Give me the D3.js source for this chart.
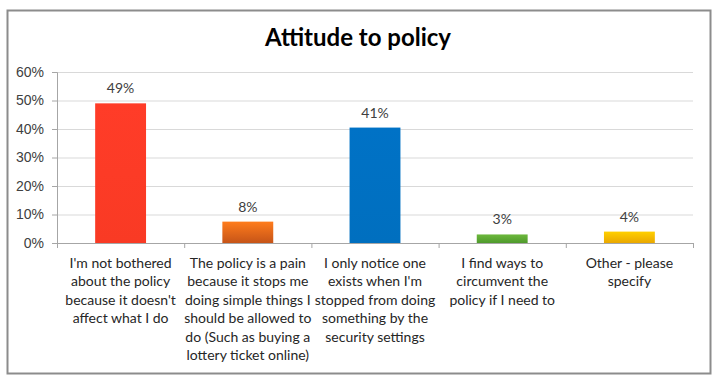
<!DOCTYPE html>
<html lang="en">
<head>
  <meta charset="UTF-8">
  <title>Attitude to policy</title>
  <script src="https://cdn.jsdelivr.net/npm/d3@7"></script>
  <style>
    body { margin: 0; background: #fff; }
    svg { display: block; font-family: Lato, "Open Sans", sans-serif; }
    .chart-title { font-size: 24px; font-weight: bold; fill: #000; }
    .tick text { font-size: 14px; fill: #404040; }
    .cat-label { font-size: 14px; fill: #262626; }
    .value-label { font-size: 14px; fill: #404040; }
  </style>
</head>
<body>
  <div id="container"></div>
  <script>
    // Categories (already split into lines as in the picture)
    const categories = [
      ["I'm not bothered", "about the policy", "because it doesn't", "affect what I do"],
      ["The policy is a pain", "because it stops me", "doing simple things I", "should be allowed to", "do (Such as buying a", "lottery ticket online)"],
      ["I only notice one", "exists when I'm", "stopped from doing", "something by the", "security settings"],
      ["I find ways to", "circumvent the", "policy if I need to"],
      ["Other - please", "specify"]
    ];
    const values = [0.49, 0.075, 0.405, 0.03, 0.04];
    const valueLabels = ["49%", "8%", "41%", "3%", "4%"];
    const yTicks = [0, 0.1, 0.2, 0.3, 0.4, 0.5, 0.6];

    // colour pairs: top / bottom of gradient
    const colors = [
      ["#ff3c28", "#f93a24"],
      ["#ff7c1c", "#c65418"],
      ["#0072c6", "#006fbf"],
      ["#6cb83c", "#4f9a2c"],
      ["#ffd000", "#eaa800"]
    ];

    const width = 721;
    const height = 384;
    const plot = { left: 57, right: 693, top: 72, bottom: 243 };

    const svg = d3.select("#container")
      .append("svg")
      .attr("width", width)
      .attr("height", height);

    const defs = svg.append("defs");
    colors.forEach((c, i) => {
      const g = defs.append("linearGradient")
        .attr("id", "grad" + i)
        .attr("x1", 0).attr("y1", 0).attr("x2", 0).attr("y2", 1);
      g.append("stop").attr("offset", "0%").attr("stop-color", c[0]);
      g.append("stop").attr("offset", "100%").attr("stop-color", c[1]);
    });

    // outer frame
    svg.append("rect")
      .attr("x", 7.5)
      .attr("y", 10.5)
      .attr("width", 703)
      .attr("height", 363)
      .attr("fill", "#fff")
      .attr("stroke", "#8c8c8c")
      .attr("stroke-width", 2);

    // scales
    const x = d3.scaleBand()
      .domain(d3.range(categories.length))
      .range([plot.left, plot.right])
      .paddingInner(0.6)
      .paddingOuter(0.3);

    const y = d3.scaleLinear()
      .domain([0, 0.6])
      .range([plot.bottom, plot.top]);

    // gridlines
    svg.append("g")
      .attr("transform", `translate(${plot.left},0)`)
      .call(d3.axisLeft(y).tickValues(yTicks.slice(1)).tickSize(-(plot.right - plot.left)).tickFormat(""))
      .call(g => g.select(".domain").remove())
      .selectAll("line")
      .attr("stroke", "#d9d9d9");

    // y axis
    svg.append("g")
      .attr("transform", `translate(${plot.left},0)`)
      .call(d3.axisLeft(y).tickValues(yTicks).tickFormat(d3.format(".0%")).tickSize(5).tickPadding(8))
      .call(g => g.select(".domain").attr("stroke", "#a6a6a6"))
      .call(g => g.selectAll(".tick line").attr("stroke", "#a6a6a6"));

    // bars
    svg.selectAll(".bar")
      .data(values)
      .enter()
      .append("rect")
      .attr("class", "bar")
      .attr("x", (d, i) => x(i))
      .attr("y", d => y(d))
      .attr("width", x.bandwidth())
      .attr("height", d => y(0) - y(d))
      .attr("fill", (d, i) => `url(#grad${i})`);

    // x axis line + category boundary ticks
    svg.append("line")
      .attr("x1", plot.left)
      .attr("x2", plot.right)
      .attr("y1", y(0) + 0.5)
      .attr("y2", y(0) + 0.5)
      .attr("stroke", "#a6a6a6");

    svg.selectAll(".cat-tick")
      .data(d3.range(categories.length + 1))
      .enter()
      .append("line")
      .attr("class", "cat-tick")
      .attr("x1", i => plot.left + i * x.step() + 0.5)
      .attr("x2", i => plot.left + i * x.step() + 0.5)
      .attr("y1", y(0))
      .attr("y2", y(0) + 5)
      .attr("stroke", "#a6a6a6");

    // value labels
    svg.selectAll(".value-label")
      .data(values)
      .enter()
      .append("text")
      .attr("class", "value-label")
      .attr("x", (d, i) => x(i) + x.bandwidth() / 2)
      .attr("y", d => y(d) - 10)
      .attr("text-anchor", "middle")
      .text((d, i) => valueLabels[i]);

    // category labels
    const catG = svg.selectAll(".cat")
      .data(categories)
      .enter()
      .append("text")
      .attr("class", "cat-label")
      .attr("text-anchor", "middle")
      .attr("transform", (d, i) => `translate(${x(i) + x.bandwidth() / 2},268)`);

    catG.selectAll("tspan")
      .data(d => d)
      .enter()
      .append("tspan")
      .attr("x", 0)
      .attr("y", (d, j) => j * 18.4)
      .text(d => d);

    // title
    svg.append("text")
      .attr("class", "chart-title")
      .attr("x", 358)
      .attr("y", 46)
      .attr("text-anchor", "middle")
      .text("Attitude to policy");
  </script>
</body>
</html>
